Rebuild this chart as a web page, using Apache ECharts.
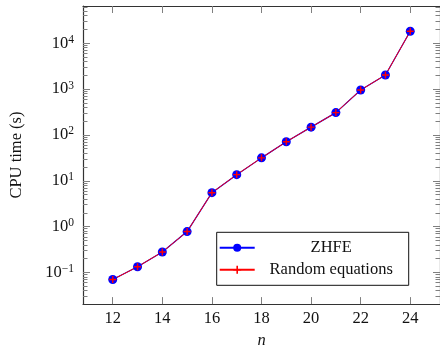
<!DOCTYPE html>
<html>
<head>
<meta charset="utf-8">
<script src="https://cdn.jsdelivr.net/npm/echarts@6/dist/echarts.min.js"></script>
<style>html,body{margin:0;padding:0;background:#fff;}#c{width:440px;height:354px;}</style>
</head>
<body>
<div id="c"></div>
<script>
const nValues = [12, 13, 14, 15, 16, 17, 18, 19, 20, 21, 22, 23, 24];
const zhfeTimes = [0.07, 0.133, 0.28, 0.78, 5.5, 13.6, 31.6, 71, 148, 307, 955, 2035, 18250];
const randomTimes = [0.07, 0.133, 0.28, 0.78, 5.5, 13.6, 31.6, 71, 148, 307, 955, 2035, 18250];
const xTickValues = [12, 14, 16, 18, 20, 22, 24];
const yTickValues = [0.1, 1, 10, 100, 1000, 10000];
const seriesNames = ['ZHFE', 'Random equations'];

const yMin = 0.0204, yMax = 65000;
const xMin = 10.8, xMax = 25.2;
const minorTicks = [];
for (let e = -2; e <= 4; e++) {
  for (let k = 2; k <= 9; k++) {
    const v = k * Math.pow(10, e);
    if (v >= yMin && v <= yMax) minorTicks.push(v);
  }
}
const FONT = 'Liberation Serif';
const axisCol = '#333';
const tickCol = '#808080';

function expLabel(v) {
  const e = Math.round(Math.log10(v));
  return '{b|10}{s|' + (e < 0 ? '\u2212' + (-e) : String(e)) + '}';
}

const chart = echarts.init(document.getElementById('c'), null, {renderer: 'canvas'});
const grid = {left: 82, top: 6, width: 362.5, height: 300.7};

function xAxisDef(pos, labels) {
  return {
    type: 'value', min: xMin, max: xMax, position: pos,
    splitLine: {show: false},
    axisLine: {show: true, onZero: false, lineStyle: {color: axisCol, width: 1.2}},
    axisTick: {show: true, inside: true, length: 7, customValues: xTickValues, lineStyle: {color: tickCol, width: 1}},
    axisLabel: labels ? {show: true, customValues: xTickValues, margin: 6, fontFamily: FONT, fontSize: 16.5, color: '#111'} : {show: false},
    name: labels ? 'n' : '',
    nameLocation: 'middle', nameGap: 26,
    nameTextStyle: {fontFamily: FONT, fontStyle: 'italic', fontSize: 16.5, color: '#111'}
  };
}
function yAxisDef(pos, minor, labels, line) {
  return {
    type: 'log', min: yMin, max: yMax, position: pos,
    splitLine: {show: false},
    axisLine: {show: line, onZero: false, lineStyle: {color: axisCol, width: 1.2}},
    axisTick: {show: true, inside: true, length: minor ? 4.5 : 7, customValues: minor ? minorTicks : yTickValues, lineStyle: {color: tickCol, width: 1}},
    axisLabel: labels ? {
      show: true, customValues: yTickValues, margin: 9, formatter: expLabel,
      rich: {
        b: {fontFamily: FONT, fontSize: 16.5, color: '#111'},
        s: {fontFamily: FONT, fontSize: 11.5, color: '#111', verticalAlign: 'top', padding: [0, 0, 7, 0]}
      }
    } : {show: false},
    name: labels ? 'CPU time (s)' : '',
    nameLocation: 'middle', nameGap: 58, nameRotate: 90,
    nameTextStyle: {fontFamily: FONT, fontSize: 16.5, color: '#111'}
  };
}

const plusPath = 'path://M4,0H6V4H10V6H6V10H4V6H0V4H4Z';

chart.setOption({
  animation: false,
  backgroundColor: '#fff',
  grid: grid,
  xAxis: [xAxisDef('bottom', true), xAxisDef('top', false)],
  yAxis: [
    yAxisDef('left', false, true, true),
    yAxisDef('left', true, false, false),
    yAxisDef('right', false, false, true),
    yAxisDef('right', true, false, false)
  ],
  legend: {
    orient: 'vertical', left: 216.7, top: 232.3,
    padding: [7, 6, 7, 2], itemGap: 5, itemWidth: 35, itemHeight: 10,
    backgroundColor: '#fff', borderColor: '#111', borderWidth: 1, borderRadius: 0,
    data: seriesNames,
    formatter: function (name) { return '{c|' + name + '}'; },
    textStyle: {
      fontFamily: FONT, fontSize: 16.5, color: '#111',
      rich: {c: {fontFamily: FONT, fontSize: 16.5, width: 143, align: 'center', lineHeight: 16}}
    }
  },
  series: [
    {
      name: seriesNames[0], type: 'line', xAxisIndex: 0, yAxisIndex: 0,
      data: nValues.map((n, i) => [n, zhfeTimes[i]]),
      symbol: 'circle', symbolSize: 9, showAllSymbol: true,
      lineStyle: {color: '#0000ff', width: 1.2},
      itemStyle: {color: '#0000ff'}
    },
    {
      name: seriesNames[1], type: 'line', xAxisIndex: 0, yAxisIndex: 0,
      data: nValues.map((n, i) => [n, randomTimes[i]]),
      symbol: plusPath, symbolSize: 7, showAllSymbol: true,
      lineStyle: {color: '#ff0000', width: 1},
      itemStyle: {color: '#ff0000'}
    }
  ]
});
</script>
</body>
</html>
